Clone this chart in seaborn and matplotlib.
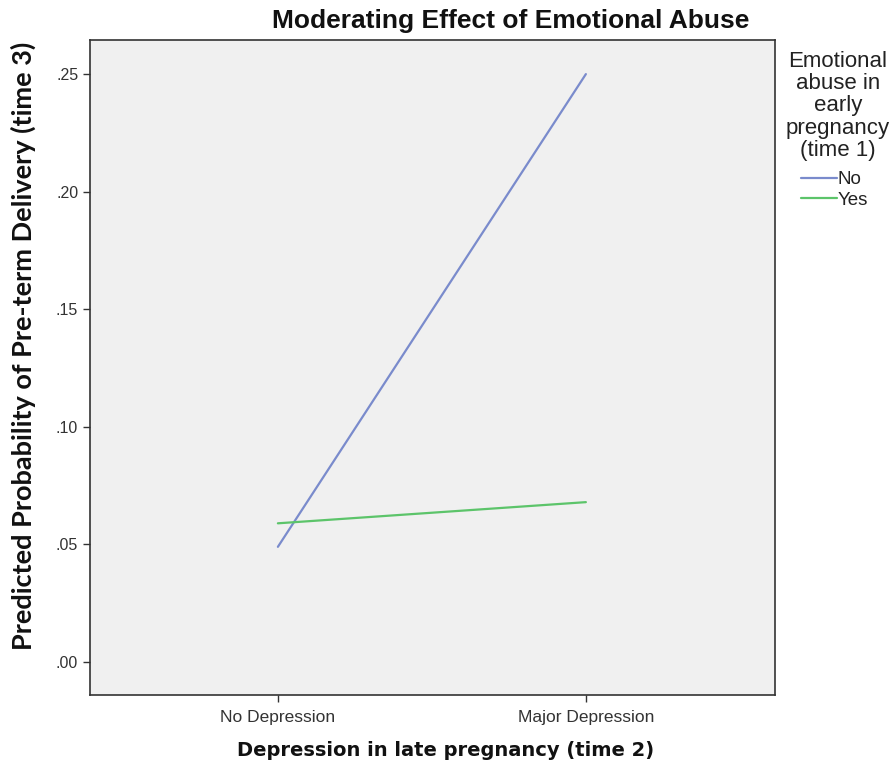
import pandas as pd
import matplotlib.pyplot as plt
import seaborn as sns

depression = ['No Depression', 'Major Depression']
abuse_groups = ['No', 'Yes']
prob_no = [0.049, 0.250]
prob_yes = [0.059, 0.068]

df = pd.DataFrame({
    'depression': depression * 2,
    'abuse': [abuse_groups[0]] * 2 + [abuse_groups[1]] * 2,
    'prob': prob_no + prob_yes,
})

sns.set_style('white')
plt.rcParams['font.family'] = ['Liberation Sans', 'DejaVu Sans']

fig = plt.figure(figsize=(8.93, 7.71), dpi=100)
ax = fig.add_axes([90/893, 76/771, 685/893, 655/771])
ax.set_facecolor('#f0f0f0')

sns.lineplot(data=df, x='depression', y='prob', hue='abuse', hue_order=abuse_groups,
             palette=['#7a8bcc', '#5cc46a'], linewidth=1.6, ax=ax, sort=False)

ax.set_xlim(-0.61, 1.614)
ax.set_ylim(-0.014, 0.2645)
yt = [0, 0.05, 0.10, 0.15, 0.20, 0.25]
ax.set_yticks(yt)
ax.set_yticklabels(['.00', '.05', '.10', '.15', '.20', '.25'])
ax.tick_params(axis='both', length=5, width=1, color='#333333',
               labelcolor='#333333', left=True, bottom=True)
ax.tick_params(axis='x', labelsize=12.5, pad=6)
ax.tick_params(axis='y', labelsize=11.5)
for s in ax.spines.values():
    s.set_color('#333333')
    s.set_linewidth(1.2)

ax.set_xlabel('')
ax.set_ylabel('')
fig.text(446/893, 1 - 750/771, 'Depression in late pregnancy (time 2)', fontsize=14,
         fontweight='bold', family='DejaVu Sans', ha='center', va='center', color='#111111')
fig.text(23/893, 1 - 346/771, 'Predicted Probability of Pre-term Delivery (time 3)',
         fontsize=19.5, fontweight='bold', family='Lato', rotation=90,
         ha='center', va='center', color='#111111')
fig.text(511/893, 1 - 21/771, 'Moderating Effect of Emotional Abuse', fontsize=19,
         fontweight='bold', ha='center', va='center', color='#111111')

fig.text(838/893, 1 - 106/771, 'Emotional\nabuse in\nearly\npregnancy\n(time 1)',
         fontsize=16, ha='center', va='center', linespacing=1.08, color='#222222')

leg = ax.legend(loc='upper left', bbox_to_anchor=(801/893, 1 - 171/771),
                bbox_transform=fig.transFigure, frameon=False, fontsize=13.5,
                handlelength=1.9, handletextpad=0.05, labelspacing=0.2,
                borderaxespad=0, borderpad=0)
for t in leg.get_texts():
    t.set_color('#222222')

fig.savefig('out.png', dpi=100)
